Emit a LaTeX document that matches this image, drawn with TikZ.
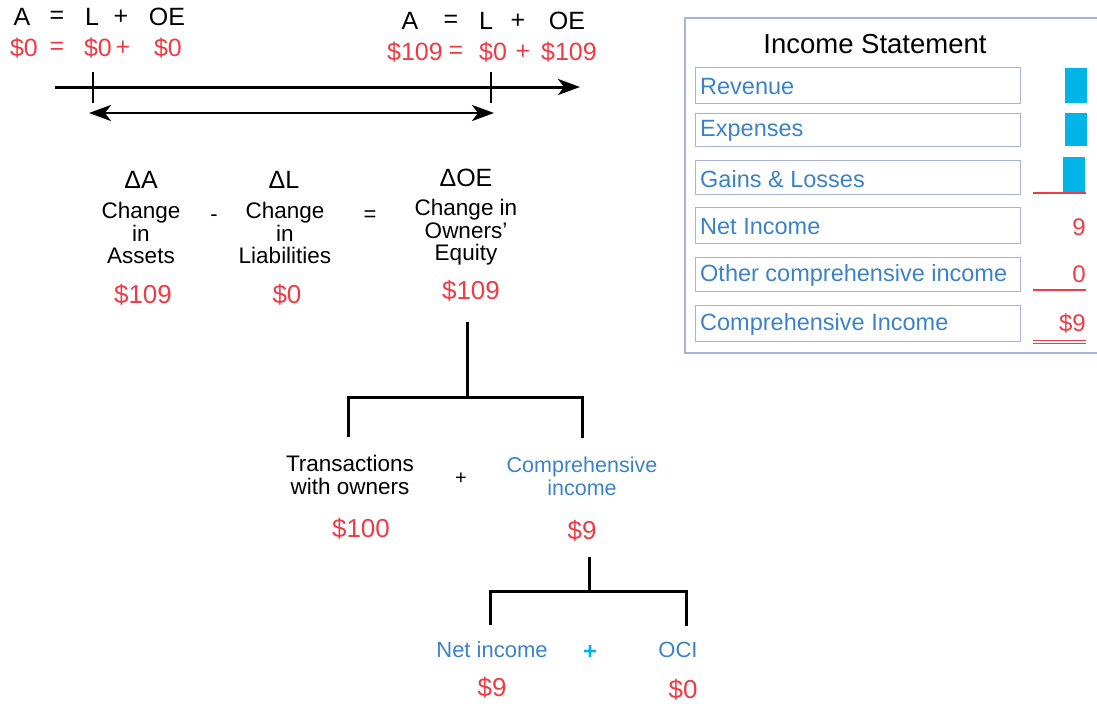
\documentclass[tikz,border=0pt]{standalone}
\usepackage{fontspec}
\setmainfont{Liberation Sans}
\usetikzlibrary{arrows.meta}
\definecolor{rd}{HTML}{EE3B45}
\definecolor{bl}{HTML}{3C82C8}
\definecolor{cy}{HTML}{00B4E8}
\definecolor{bx}{HTML}{A8B2D8}
\tikzset{
  t/.style={inner sep=0pt, font=\fontsize{#1}{#1}\selectfont},
  t/.default=20,
  blk/.style={t=25, text=black},
  red/.style={t=25, text=rd},
  lbl/.style={inner sep=0pt, align=center, text=black, font=\fontsize{22.5}{22.5}\selectfont},
  rowbox/.style={draw=bx, line width=1.2pt, minimum width=325pt, anchor=north west, inner sep=0pt},
  rowtxt/.style={t=23.5, text=bl, anchor=west},
  ln/.style={line width=3pt, black},
  mytip/.tip={Stealth[length=22pt,width=16pt,inset=6pt]},
}
\begin{document}
\begin{tikzpicture}[x=1pt,y=-1pt]
\useasboundingbox (0,0) rectangle (1097,705);
% top equations (left)
\node[blk] (a1) at (22,17) {A};
\node[blk] (e1) at (57,17) {=};
\node[blk] (l1) at (92,17) {L};
\node[blk] (p1) at (121,17) {+};
\node[blk] (o1) at (167,17) {OE};
\node[red] (ra1) at (24,48) {\$0};
\node[red] (re1) at (57,48) {=};
\node[red] (rl1) at (98,48) {\$0};
\node[red] (rp1) at (123,48) {+};
\node[red] (ro1) at (168,48) {\$0};
% top equations (right)
\node[blk] (a2) at (410,21) {A};
\node[blk] (e2) at (451,21) {=};
\node[blk] (l2) at (486,21) {L};
\node[blk] (p2) at (518,21) {+};
\node[blk] (o2) at (567,21) {OE};
\node[red] (ra2) at (415,52) {\$109};
\node[red] (re2) at (456,52) {=};
\node[red] (rl2) at (493,52) {\$0};
\node[red] (rp2) at (523,52) {+};
\node[red] (ro2) at (569,52) {\$109};
% timeline
\coordinate (tl0) at (55,87);
\coordinate (tl1) at (580,87);
\coordinate (k1a) at (93,72); \coordinate (k1b) at (93,103);
\coordinate (k2a) at (491,72); \coordinate (k2b) at (491,103);
\coordinate (d1) at (89,113); \coordinate (d2) at (494,113);
\draw[line width=3pt, -mytip] (tl0) -- (tl1);
\draw[line width=1.8pt] (k1a) -- (k1b);
\draw[line width=1.8pt] (k2a) -- (k2b);
\draw[line width=2.8pt, mytip-mytip] (d1) -- (d2);
% deltas
\node[blk] (dA) at (141,180) {ΔA};
\node[blk] (dL) at (284,180) {ΔL};
\node[blk] (dOE) at (466,178) {ΔOE};
\node[lbl, anchor=north] (cA) at (141,202) {Change\\in\\Assets};
\node[lbl, anchor=north] (cL) at (285,202) {Change\\in\\Liabilities};
\node[lbl, anchor=north] (cOE) at (466,199) {Change in\\Owners'\\Equity};
\node[t=22] (minus) at (214,218) {-};
\node[t=22] (eqs) at (370,216) {=};
\node[red, t=26] (vA) at (143,295) {\$109};
\node[red, t=26] (vL) at (287,295) {\$0};
\node[red, t=26] (vOE) at (471,291) {\$109};
% tree level 1
\coordinate (r1) at (467,322);
\coordinate (j1) at (467,397);
\coordinate (j1l) at (348,397);
\coordinate (j1r) at (582,397);
\coordinate (e1l) at (348,437);
\coordinate (e1r) at (582,438);
\draw[ln] (r1) -- (j1);
\draw[ln] (e1l) -- (j1l) -- (j1r) -- (e1r);
\node[lbl, text=black] (tw) at (350,475) {Transactions\\with owners};
\node[t=20] (plus1) at (461,479) {+};
\node[lbl, text=bl, font=\fontsize{21.5}{23}\selectfont] (ci) at (582,476) {Comprehensive\\income};
\node[red, t=26] (v100) at (361,529) {\$100};
\node[red, t=26] (v9) at (582,531) {\$9};
% tree level 2
\coordinate (r2) at (589,557);
\coordinate (j2) at (589,591);
\coordinate (j2l) at (490,591);
\coordinate (j2r) at (686,591);
\coordinate (e2l) at (490,625);
\coordinate (e2r) at (686,626);
\draw[ln] (r2) -- (j2);
\draw[ln] (e2l) -- (j2l) -- (j2r) -- (e2r);
\node[t=22, text=bl] (ni) at (492,650) {Net income};
\node[t=24, text=cy, font=\fontsize{24}{24}\bfseries] (plus2) at (590,652) {+};
\node[t=22, text=bl] (oci) at (678,650) {OCI};
\node[red, t=26] (vni) at (492,688) {\$9};
\node[red, t=26] (voci) at (683,690) {\$0};
% income statement
\coordinate (q1) at (1098,18);
\coordinate (q2) at (685,18);
\coordinate (q3) at (685,353);
\coordinate (q4) at (1098,353);
\draw[bx, line width=1.2pt] (q1) -- (q2) -- (q3) -- (q4);
\node[t=27.5] (ist) at (875,44) {Income Statement};
\node[rowbox, minimum height=36pt] (b1) at (695,67) {};
\node[rowbox, minimum height=33pt] (b2) at (695,113) {};
\node[rowbox, minimum height=34pt] (b3) at (695,160) {};
\node[rowbox, minimum height=36pt] (b4) at (695,207) {};
\node[rowbox, minimum height=34pt] (b5) at (695,257) {};
\node[rowbox, minimum height=36pt] (b6) at (695,305) {};
\node[rowtxt] (t1) at ([xshift=5pt,yshift=-1pt]b1.west) {Revenue};
\node[rowtxt] (t2) at ([xshift=5pt,yshift=-1pt]b2.west) {Expenses};
\node[rowtxt] (t3) at ([xshift=5pt,yshift=-1pt]b3.west) {Gains \& Losses};
\node[rowtxt] (t4) at ([xshift=5pt,yshift=-1pt]b4.west) {Net Income};
\node[rowtxt] (t5) at ([xshift=5pt,yshift=-1pt]b5.west) {Other comprehensive income};
\node[rowtxt] (t6) at ([xshift=5pt,yshift=-1pt]b6.west) {Comprehensive Income};
\fill[cy] (1065,68) rectangle (1087,103);
\fill[cy] (1065,113) rectangle (1087,146);
\fill[cy] (1063,157) rectangle (1085,192);
\draw[rd, line width=1.2pt] (1033,193) -- (1086,193);
\node[t=24, text=rd, anchor=east] (n9) at (1086,227) {9};
\node[t=24, text=rd, anchor=east] (n0) at (1086,274) {0};
\draw[rd, line width=1.2pt] (1033,290) -- (1086,290);
\node[t=24, text=rd, anchor=east] (n9b) at (1086,323) {\$9};
\draw[rd, line width=1pt] (1033,340) -- (1086,340);
\draw[rd, line width=1pt] (1033,343.5) -- (1086,343.5);
\end{tikzpicture}
\end{document}
